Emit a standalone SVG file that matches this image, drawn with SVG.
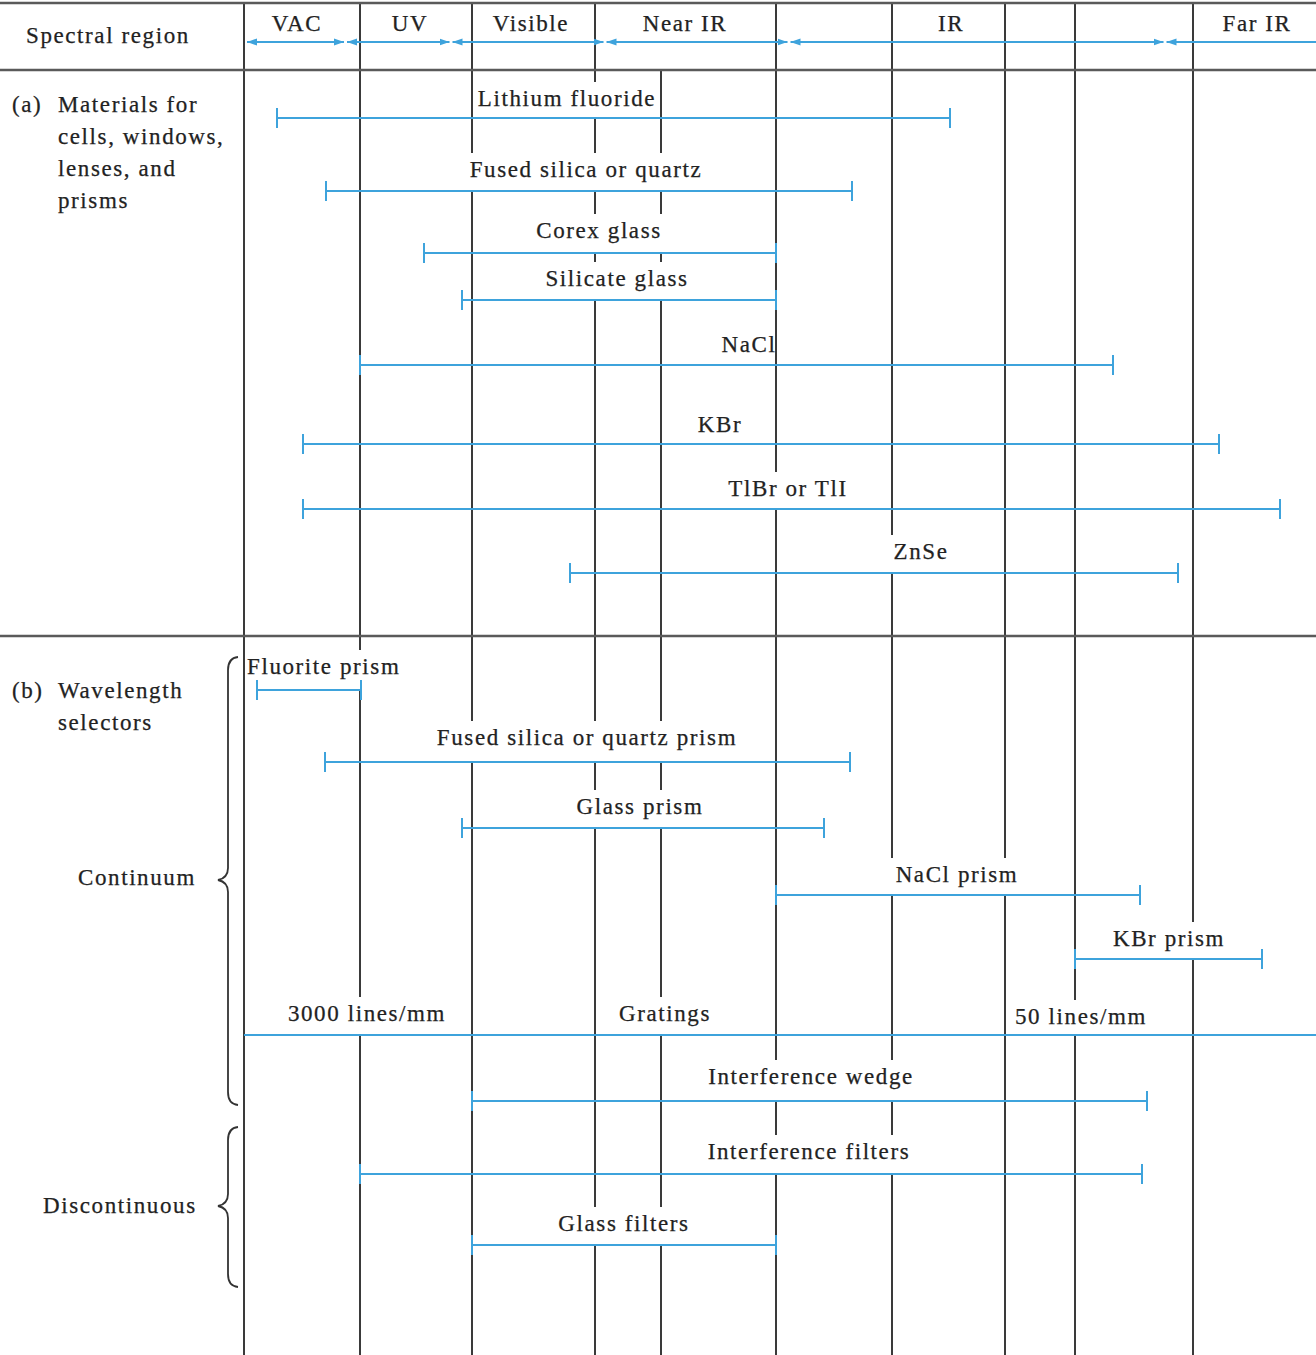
<svg xmlns="http://www.w3.org/2000/svg" width="1316" height="1355" viewBox="0 0 1316 1355">
<defs>
<style>
.v{stroke:#3a3a3a;stroke-width:2}
.h{stroke:#5a5a5a;stroke-width:2.5}
.b{stroke:#3ea3dc;stroke-width:2;fill:none}
.bg{fill:#fff}
.t{font-family:"Liberation Serif","Times New Roman",serif;font-size:23px;letter-spacing:1.6px;fill:#222;stroke:#222;stroke-width:0.25px}
.m{text-anchor:middle}
.br{stroke:#333;stroke-width:1.8;fill:none}
</style>
<marker id="cap" markerUnits="userSpaceOnUse" markerWidth="4" markerHeight="24" refX="2" refY="12" orient="0">
<path d="M2,2 V22" stroke="#3ea3dc" stroke-width="2"/>
</marker>
<marker id="arr" markerUnits="userSpaceOnUse" markerWidth="10" markerHeight="8" refX="10" refY="4" orient="auto-start-reverse">
<path d="M0,0.5 L10,4 L0,7.5 z" fill="#3ea3dc"/>
</marker>
</defs>
<rect width="1316" height="1355" fill="#fff"/>

<g id="grid">
<line class="v" x1="244" y1="3" x2="244" y2="1355"/>
<line class="v" x1="360" y1="3" x2="360" y2="1355"/>
<line class="v" x1="472" y1="3" x2="472" y2="1355"/>
<line class="v" x1="595" y1="3" x2="595" y2="1355"/>
<line class="v" x1="661" y1="70" x2="661" y2="1355"/>
<line class="v" x1="776" y1="3" x2="776" y2="1355"/>
<line class="v" x1="892" y1="3" x2="892" y2="1355"/>
<line class="v" x1="1005" y1="3" x2="1005" y2="1355"/>
<line class="v" x1="1075" y1="3" x2="1075" y2="1355"/>
<line class="v" x1="1193" y1="3" x2="1193" y2="1355"/>
<line class="h" x1="0" y1="3" x2="1316" y2="3"/>
<line class="h" x1="0" y1="70" x2="1316" y2="70"/>
<line class="h" x1="0" y1="636" x2="1316" y2="636"/>
</g>

<g id="label-backgrounds">
<rect class="bg" x="476" y="82" width="182" height="35"/>
<rect class="bg" x="467" y="153" width="237" height="37"/>
<rect class="bg" x="533" y="214" width="130" height="38"/>
<rect class="bg" x="543" y="262" width="146" height="37"/>
<rect class="bg" x="720" y="328" width="54" height="36"/>
<rect class="bg" x="695" y="408" width="49" height="35"/>
<rect class="bg" x="726" y="472" width="123" height="36"/>
<rect class="bg" x="890" y="535" width="60" height="37"/>
<rect class="bg" x="246" y="650" width="156" height="39"/>
<rect class="bg" x="433" y="721" width="306" height="40"/>
<rect class="bg" x="573" y="790" width="132" height="37"/>
<rect class="bg" x="890" y="858" width="133" height="36"/>
<rect class="bg" x="1110" y="922" width="117" height="36"/>
<rect class="bg" x="284" y="997" width="164" height="37"/>
<rect class="bg" x="616" y="997" width="97" height="37"/>
<rect class="bg" x="1012" y="1000" width="137" height="34"/>
<rect class="bg" x="704" y="1060" width="212" height="40"/>
<rect class="bg" x="705" y="1135" width="206" height="38"/>
<rect class="bg" x="556" y="1207" width="135" height="37"/>
</g>

<g id="header">
<text class="t" x="26" y="43">Spectral region</text>
<text class="t m" x="297" y="31">VAC</text>
<text class="t m" x="410" y="31">UV</text>
<text class="t m" x="531" y="31">Visible</text>
<text class="t m" x="685" y="31">Near IR</text>
<text class="t m" x="951" y="31">IR</text>
<text class="t m" x="1257" y="31">Far IR</text>
</g>

<g id="connectors">
<line class="b" x1="247" y1="42" x2="344" y2="42" marker-start="url(#arr)" marker-end="url(#arr)"/>
<line class="b" x1="347" y1="42" x2="449.5" y2="42" marker-start="url(#arr)" marker-end="url(#arr)"/>
<line class="b" x1="452.5" y1="42" x2="603.5" y2="42" marker-start="url(#arr)" marker-end="url(#arr)"/>
<line class="b" x1="606.5" y1="42" x2="787.5" y2="42" marker-start="url(#arr)" marker-end="url(#arr)"/>
<line class="b" x1="790.5" y1="42" x2="1163.5" y2="42" marker-start="url(#arr)" marker-end="url(#arr)"/>
<line class="b" x1="1166.5" y1="42" x2="1316" y2="42" marker-start="url(#arr)"/>
</g>

<g id="section-a">
<text class="t" x="12" y="112">(a)</text>
<text class="t" x="58" y="112">Materials for</text>
<text class="t" x="58" y="144">cells, windows,</text>
<text class="t" x="58" y="176">lenses, and</text>
<text class="t" x="58" y="208">prisms</text>
</g>

<g id="lithium-fluoride">
<line class="b" x1="277" y1="118" x2="950" y2="118" marker-start="url(#cap)" marker-end="url(#cap)"/>
<text class="t m" x="567" y="106">Lithium fluoride</text>
</g>
<g id="fused-silica">
<line class="b" x1="326" y1="191" x2="852" y2="191" marker-start="url(#cap)" marker-end="url(#cap)"/>
<text class="t m" x="586" y="177">Fused silica or quartz</text>
</g>
<g id="corex-glass">
<line class="b" x1="424" y1="253" x2="776" y2="253" marker-start="url(#cap)" marker-end="url(#cap)"/>
<text class="t m" x="599" y="238">Corex glass</text>
</g>
<g id="silicate-glass">
<line class="b" x1="462" y1="300" x2="776" y2="300" marker-start="url(#cap)" marker-end="url(#cap)"/>
<text class="t m" x="617" y="286">Silicate glass</text>
</g>
<g id="nacl">
<line class="b" x1="360" y1="365" x2="1113" y2="365" marker-start="url(#cap)" marker-end="url(#cap)"/>
<text class="t m" x="749" y="352">NaCl</text>
</g>
<g id="kbr">
<line class="b" x1="303" y1="444" x2="1219" y2="444" marker-start="url(#cap)" marker-end="url(#cap)"/>
<text class="t m" x="720" y="432">KBr</text>
</g>
<g id="tlbr">
<line class="b" x1="303" y1="509" x2="1280" y2="509" marker-start="url(#cap)" marker-end="url(#cap)"/>
<text class="t m" x="788" y="496">TlBr or TlI</text>
</g>
<g id="znse">
<line class="b" x1="570" y1="573" x2="1178" y2="573" marker-start="url(#cap)" marker-end="url(#cap)"/>
<text class="t m" x="921" y="559">ZnSe</text>
</g>

<g id="section-b">
<text class="t" x="12" y="698">(b)</text>
<text class="t" x="58" y="698">Wavelength</text>
<text class="t" x="58" y="730">selectors</text>
<text class="t" x="78" y="885">Continuum</text>
<text class="t" x="43" y="1213">Discontinuous</text>
<path class="br" d="M238,657 Q228,658 228,670 L228,868 Q228,878 218,880 Q228,882 228,892 L228,1092 Q228,1104 238,1105"/>
<path class="br" d="M238,1127 Q228,1128 228,1140 L228,1194 Q228,1204 218,1206 Q228,1208 228,1218 L228,1274 Q228,1286 238,1287"/>
</g>

<g id="fluorite-prism">
<line class="b" x1="257" y1="690" x2="361" y2="690" marker-start="url(#cap)" marker-end="url(#cap)"/>
<text class="t" x="247" y="674">Fluorite prism</text>
</g>
<g id="fused-silica-prism">
<line class="b" x1="325" y1="762" x2="850" y2="762" marker-start="url(#cap)" marker-end="url(#cap)"/>
<text class="t m" x="587" y="745">Fused silica or quartz prism</text>
</g>
<g id="glass-prism">
<line class="b" x1="462" y1="828" x2="824" y2="828" marker-start="url(#cap)" marker-end="url(#cap)"/>
<text class="t m" x="640" y="814">Glass prism</text>
</g>
<g id="nacl-prism">
<line class="b" x1="776" y1="895" x2="1140" y2="895" marker-start="url(#cap)" marker-end="url(#cap)"/>
<text class="t m" x="957" y="882">NaCl prism</text>
</g>
<g id="kbr-prism">
<line class="b" x1="1075" y1="959" x2="1262" y2="959" marker-start="url(#cap)" marker-end="url(#cap)"/>
<text class="t m" x="1169" y="946">KBr prism</text>
</g>
<g id="gratings">
<line class="b" x1="244" y1="1035" x2="1316" y2="1035"/>
<text class="t m" x="367" y="1021">3000 lines/mm</text>
<text class="t m" x="665" y="1021">Gratings</text>
<text class="t m" x="1081" y="1024">50 lines/mm</text>
</g>
<g id="interference-wedge">
<line class="b" x1="472" y1="1101" x2="1147" y2="1101" marker-start="url(#cap)" marker-end="url(#cap)"/>
<text class="t m" x="811" y="1084">Interference wedge</text>
</g>
<g id="interference-filters">
<line class="b" x1="360" y1="1174" x2="1142" y2="1174" marker-start="url(#cap)" marker-end="url(#cap)"/>
<text class="t m" x="809" y="1159">Interference filters</text>
</g>
<g id="glass-filters">
<line class="b" x1="472" y1="1245" x2="776" y2="1245" marker-start="url(#cap)" marker-end="url(#cap)"/>
<text class="t m" x="624" y="1231">Glass filters</text>
</g>
</svg>
